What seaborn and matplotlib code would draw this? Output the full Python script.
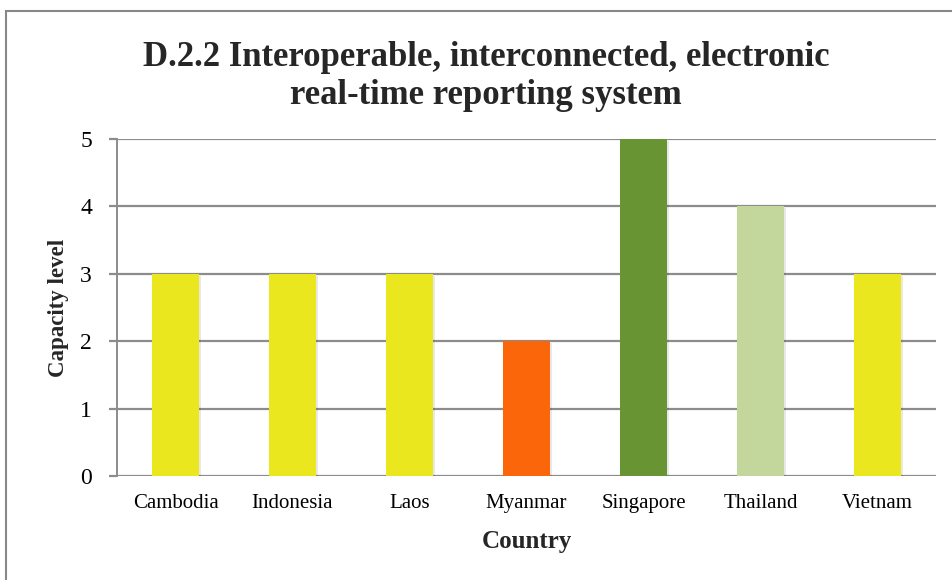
import matplotlib
matplotlib.use("Agg")
import matplotlib.pyplot as plt
import matplotlib.patheffects as pe
from matplotlib.patches import Rectangle
import seaborn as sns
import pandas as pd

countries = ["Cambodia", "Indonesia", "Laos", "Myanmar", "Singapore", "Thailand", "Vietnam"]
capacity = [3, 3, 3, 2, 5, 4, 3]
bar_colors = ["#EAE71E", "#EAE71E", "#EAE71E", "#FC660A", "#699434", "#C3D69B", "#EAE71E"]
y_ticks = [0, 1, 2, 3, 4, 5]

sns.set_theme(style="white")
plt.rcParams["font.family"] = ["Liberation Serif", "DejaVu Serif"]

df = pd.DataFrame({"Country": countries, "Capacity level": capacity})

fig = plt.figure(figsize=(9.52, 5.8), dpi=100)
ax = fig.add_axes([117 / 952, 1 - 476 / 580, (936 - 117) / 952, (476 - 139) / 580])

sns.barplot(data=df, x="Country", y="Capacity level", hue="Country",
            palette=bar_colors, legend=False, width=0.41, saturation=1,
            linewidth=0, ax=ax, zorder=3)

# faint drop shadow under each bar
for bar in ax.patches:
    bar.set_path_effects([
        pe.SimplePatchShadow(offset=(1, -1.5), shadow_rgbFace="#000000", alpha=0.09),
        pe.Normal(),
    ])

grid_color = "#8C8C8C"
ax.set_ylim(0, 5)
ax.set_yticks(y_ticks)
ax.yaxis.grid(True, color=grid_color, linewidth=1.6, zorder=0)
ax.set_axisbelow(True)
for side in ["top", "right", "bottom"]:
    ax.spines[side].set_visible(False)
ax.spines["left"].set_color(grid_color)
ax.spines["left"].set_linewidth(1.4)
ax.tick_params(axis="y", length=6, width=1.6, color=grid_color, left=True,
               labelsize=17, pad=12, labelcolor="#000000")
ax.tick_params(axis="x", length=0, labelsize=15, pad=13, labelcolor="#000000")

ax.set_xlabel("Country", fontsize=18, fontweight="bold", labelpad=12)
ax.set_ylabel("Capacity level", fontsize=16.5, fontweight="bold", labelpad=8)

fig.text(486 / 952, 1 - 76 / 580,
         "D.2.2 Interoperable, interconnected, electronic\nreal-time reporting system",
         ha="center", va="center", fontsize=25, fontweight="bold",
         linespacing=1.2)

fig.patches.append(Rectangle((5.5 / 952, -0.1), 1.2, 1 - 10.5 / 580 + 0.1,
                             transform=fig.transFigure, fill=False,
                             edgecolor="#888888", linewidth=1.5))

fig.savefig("out.png", dpi=100)
